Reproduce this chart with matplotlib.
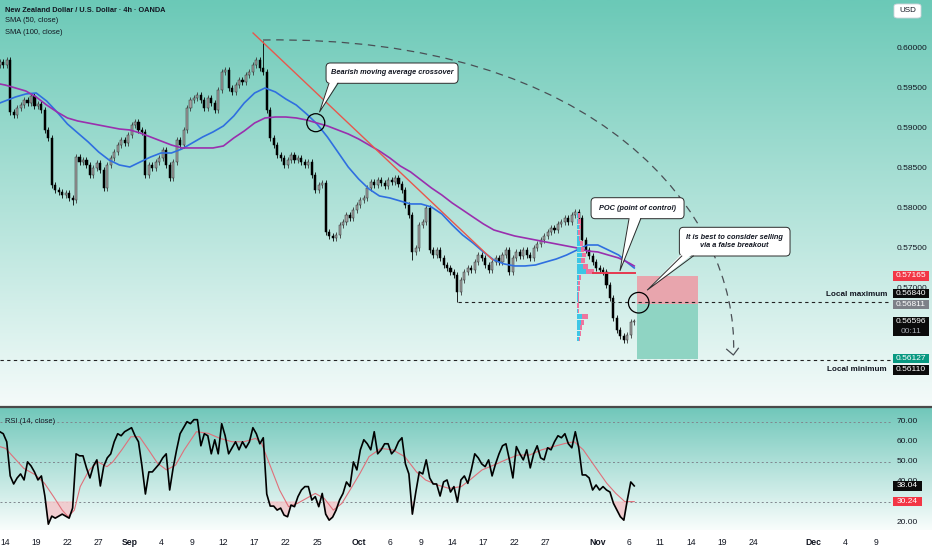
import numpy as np
import matplotlib
matplotlib.use('Agg')
import matplotlib.pyplot as plt
from matplotlib.patches import Rectangle, Ellipse, PathPatch, FancyBboxPatch, Polygon
from matplotlib.path import Path
from matplotlib.colors import LinearSegmentedColormap
import matplotlib.transforms as mtransforms

plt.rcParams['font.family'] = ['Liberation Sans', 'DejaVu Sans']

# ---------------- DATA ----------------
title_text = "New Zealand Dollar / U.S. Dollar \u00b7 4h \u00b7 OANDA"
legend_lines = ["SMA (50, close)", "SMA (100, close)"]

# 8h-equivalent candle closes (3 per trading day), first candle at day -0.5
close = [0.59838, 0.59800, 0.59863, 0.59213, 0.59175, 0.59263, 0.59300, 0.59363, 0.59325, 0.59413,
         0.59288, 0.59313, 0.59238, 0.58988, 0.58888, 0.58300, 0.58238, 0.58213, 0.58175, 0.58200,
         0.58138, 0.58113, 0.58650, 0.58588, 0.58613, 0.58550, 0.58425, 0.58513, 0.58575, 0.58488,
         0.58263, 0.58550, 0.58638, 0.58713, 0.58800, 0.58863, 0.58825, 0.58925, 0.59050, 0.59088,
         0.58988, 0.58963, 0.58425, 0.58550, 0.58513, 0.58588, 0.58638, 0.58738, 0.58550, 0.58388,
         0.58588, 0.58863, 0.58800, 0.58988, 0.59263, 0.59363, 0.59388, 0.59425, 0.59363, 0.59263,
         0.59388, 0.59325, 0.59238, 0.59488, 0.59713, 0.59738, 0.59513, 0.59463, 0.59550, 0.59613,
         0.59588, 0.59675, 0.59713, 0.59800, 0.59863, 0.59763, 0.59713, 0.59238, 0.58888, 0.58800,
         0.58675, 0.58638, 0.58550, 0.58613, 0.58675, 0.58613, 0.58638, 0.58588, 0.58550, 0.58588,
         0.58425, 0.58238, 0.58300, 0.58325, 0.57713, 0.57663, 0.57638, 0.57675, 0.57800, 0.57838,
         0.57925, 0.57888, 0.57988, 0.58050, 0.58113, 0.58138, 0.58263, 0.58338, 0.58300, 0.58363,
         0.58325, 0.58288, 0.58363, 0.58338, 0.58388, 0.58313, 0.58238, 0.58050, 0.57925, 0.57463,
         0.57513, 0.57800, 0.57838, 0.58013, 0.57488, 0.57425, 0.57488, 0.57388, 0.57300, 0.57263,
         0.57213, 0.57175, 0.56963, 0.57113, 0.57213, 0.57263, 0.57238, 0.57338, 0.57425, 0.57388,
         0.57300, 0.57238, 0.57338, 0.57388, 0.57338, 0.57425, 0.57488, 0.57213, 0.57388, 0.57463,
         0.57413, 0.57488, 0.57425, 0.57388, 0.57513, 0.57563, 0.57613, 0.57663, 0.57713, 0.57763,
         0.57738, 0.57813, 0.57838, 0.57888, 0.57838, 0.57925, 0.57963, 0.57888, 0.57613, 0.57488,
         0.57413, 0.57338, 0.57263, 0.57238, 0.57213, 0.57050, 0.56888, 0.56638, 0.56488, 0.56413,
         0.56363, 0.56425, 0.56588, 0.56596]
first_open = 0.59800
wick_high_extra = {76: 0.60100}
wick_low_extra = {21: 0.58050, 119: 0.57363, 132: 0.56840, 180: 0.56325}

# SMA values sampled per trading day (day -0.5, 0..60, 60.5)
sma_days = [-0.5] + list(range(61)) + [60.5]
sma50 = [0.59325, 0.59350, 0.59400, 0.59438, 0.59450, 0.59350, 0.59213, 0.59063, 0.58950, 0.58838,
         0.58713, 0.58613, 0.58550, 0.58525, 0.58588, 0.58650, 0.58700, 0.58700, 0.58750, 0.58825,
         0.58900, 0.58963, 0.59038, 0.59163, 0.59325, 0.59450, 0.59513, 0.59463, 0.59375, 0.59300,
         0.59188, 0.59063, 0.58900, 0.58713, 0.58525, 0.58375, 0.58250, 0.58163, 0.58138, 0.58100,
         0.58063, 0.58063, 0.58025, 0.57938, 0.57800, 0.57675, 0.57575, 0.57463, 0.57363, 0.57313,
         0.57288, 0.57288, 0.57300, 0.57338, 0.57375, 0.57425, 0.57488, 0.57550, 0.57550, 0.57488,
         0.57425, 0.57313, 0.57263]
sma100 = [0.59563, 0.59550, 0.59513, 0.59475, 0.59400, 0.59300, 0.59213, 0.59138, 0.59100, 0.59075,
          0.59050, 0.59025, 0.59000, 0.58988, 0.58950, 0.58900, 0.58850, 0.58800, 0.58763, 0.58763,
          0.58763, 0.58763, 0.58788, 0.58888, 0.58975, 0.59075, 0.59138, 0.59150, 0.59150, 0.59138,
          0.59113, 0.59075, 0.59038, 0.58988, 0.58938, 0.58875, 0.58800, 0.58725, 0.58638, 0.58538,
          0.58463, 0.58363, 0.58263, 0.58175, 0.58075, 0.57988, 0.57900, 0.57813, 0.57738, 0.57700,
          0.57663, 0.57638, 0.57613, 0.57588, 0.57563, 0.57538, 0.57513, 0.57475, 0.57463, 0.57425,
          0.57388, 0.57325, 0.57288]

rsi = [65, 64, 60, 43, 39, 42, 44, 41, 50, 48, 45, 41, 43, 33, 19, 23, 22, 23, 24, 23,
       22, 27, 54, 53, 53, 47, 42, 48, 51, 38, 48, 52, 54, 60, 64, 63, 65, 66, 67, 63,
       60, 48, 34, 45, 45, 47, 49, 52, 54, 36, 47, 56, 64, 67, 70, 69, 71, 71, 58, 64,
       63, 54, 61, 54, 69, 63, 54, 57, 60, 56, 60, 57, 60, 67, 64, 59, 62, 34, 28, 28,
       26, 27, 23.5, 22.7, 28.5, 27.7, 32.7, 36, 37.7, 37.7, 31, 32.7, 27.7, 34.3, 24, 21, 22.5, 26, 31, 34.3,
       40, 37.7, 50, 46, 56, 61, 59, 56, 65, 54, 56, 59, 59, 54, 56, 60, 62, 49, 44, 24,
       35, 45, 44, 51, 42, 39, 39, 33, 40, 41, 35, 37.7, 30, 41, 43, 39.3, 46, 54, 52, 49,
       47.6, 51, 43, 49, 54, 58, 59, 51, 42, 57.6, 54, 51, 56, 47, 54, 58, 52, 51, 57, 56,
       60, 63, 62, 64, 59, 57, 65, 57, 43.5, 43.5, 42, 36, 38.5, 36, 37.7, 36, 35, 29.4, 26, 22.7,
       21, 31, 40, 38.04]
rsi_ma_idx = [0, 1.7, 3.4, 6.9, 10.3, 12.9, 15.5, 18.0, 19.7, 21.5, 23.2, 25.8, 28.3, 30.9, 32.6,
              35.2, 37.8, 40.3, 42.9, 45.5, 48.1, 50.7, 53.2, 56.7, 60.1, 63.5, 67.0, 70.4, 73.8, 75.5,
              78.1, 80.7, 83.3, 85.9, 88.4, 91.0, 93.6, 96.2, 98.7, 101.3, 103.9, 106.5, 109.9, 113.3,
              116.8, 120.2, 122.8, 126.2, 129.6, 133.1, 135.6, 139.1, 142.5, 145.9, 149.4, 152.8,
              156.3, 159.7, 163.1, 165.7, 168.3, 171.7, 175.1, 177.7, 180.3, 183.0]
rsi_ma = [57.6, 56.7, 53.4, 46.8, 43.5, 39.3, 32.7, 26, 22.7, 26, 37.7, 46, 50, 47.6, 50,
          56, 62.5, 62.5, 56, 49.3, 46, 48.4, 56, 65, 64.2, 61.7, 60, 60, 61.7, 59.2,
          47.6, 36, 27.7, 29.4, 31.8, 34.3, 31.8, 26, 29.4, 36.8, 44.3, 52.6, 56.7, 56,
          52.6, 45, 41, 38.5, 36.8, 37.7, 41, 46, 48.4, 51, 53.4, 53.4,
          56, 57.6, 59.2, 60, 56, 47.6, 39.3, 34.3, 30.2, 30.24]

# volume profile
vp_price = [0.57915, 0.57845, 0.57775, 0.57705, 0.57635, 0.57565, 0.57495, 0.57425, 0.57355, 0.57285,
            0.57215, 0.57145, 0.57075, 0.57005, 0.56935, 0.56865, 0.56795, 0.56725, 0.56655, 0.56585,
            0.56515, 0.56445, 0.56375]
vp_buy = [1, 1, 2, 1, 2, 3, 4, 5, 4, 6, 9, 2, 1, 1, 1, 1, 0, 1, 5, 4, 3, 3, 2]
vp_sell = [2, 3, 2, 2, 1, 3, 3, 4, 4, 5, 8, 2, 2, 2, 1, 1, 2, 1, 6, 3, 2, 1, 1]

# levels
local_max = 0.56840
local_min = 0.56110
poc_level = 0.57205
pos_stop, pos_entry, pos_target = 0.57165, 0.56811, 0.56127
last_price = 0.56596
trend_start = (23.85, 0.60200)
trend_end = (46.9, 0.57363)

price_ticks = [0.60000, 0.59500, 0.59000, 0.58500, 0.58000, 0.57500, 0.57000]
rsi_ticks = [70, 60, 50, 40, 20]

xtick_pos = [0, 3, 6, 9, 12, 15, 18, 21, 24, 27, 30, 34, 37, 40, 43, 46, 49, 52, 57, 60,
             63, 66, 69, 72, 77.7, 80.8, 83.75]
xtick_lab = ["14", "19", "22", "27", "Sep", "4", "9", "12", "17", "22", "25", "Oct", "6", "9",
             "14", "17", "22", "27", "Nov", "6", "11", "14", "19", "24", "Dec", "4", "9"]

# ---------------- FIGURE ----------------
W, H = 932, 550
fig = plt.figure(figsize=(W / 100, H / 100), dpi=100)
fig.patch.set_facecolor('white')

ax = fig.add_axes([0, 143 / H, 1, 407 / H])
rax = fig.add_axes([0, 20 / H, 1, 123 / H])

XMIN, XMAX = -0.481, 89.13
for a in (ax, rax):
    for s in a.spines.values():
        s.set_visible(False)
    a.set_yticks([])
ax.set_xticks([])

def gradient(a, top, bottom):
    cmap = LinearSegmentedColormap.from_list('g', [bottom, top])
    a.imshow(np.linspace(0, 1, 256).reshape(-1, 1), extent=[0, 1, 0, 1], transform=a.transAxes,
             cmap=cmap, aspect='auto', origin='lower', zorder=0)

gradient(ax, '#6bc9b7', '#f5fbfa')
gradient(rax, '#70c7ba', '#f9fdfc')
ax.set_xlim(XMIN, XMAX); ax.set_ylim(0.55525, 0.606125)
rax.set_xlim(XMIN, XMAX); rax.set_ylim(16.1, 77.3)

# separator between panes
fig.add_artist(plt.Line2D([0, 1], [143 / H, 143 / H], color='#4a4a4a', lw=1.6))

# ---------------- CANDLES ----------------
n = len(close)
xs = np.array([-0.5 + i / 3 for i in range(n)])
opens = [first_open] + close[:-1]
wick = 0.00035
for i in range(n):
    o, c = opens[i], close[i]
    hi = max(o, c) + wick
    lo = min(o, c) - wick
    if i in wick_high_extra:
        hi = wick_high_extra[i]
    if i in wick_low_extra:
        lo = wick_low_extra[i]
    up = c >= o
    col = '#3a3a3a' if up else '#000000'
    ax.plot([xs[i], xs[i]], [lo, hi], color=col, lw=0.6, zorder=3, solid_capstyle='butt')
    h = max(abs(c - o), 0.00006)
    ax.add_patch(Rectangle((xs[i] - 0.1, min(o, c)), 0.2, h,
                           facecolor='#a3a3a3' if up else '#000000',
                           edgecolor='#2a2a2a' if up else '#000000', lw=0.35, zorder=3.1))

# SMAs
ax.plot(sma_days, sma50, color='#2f6fe0', lw=1.2, zorder=4)
ax.plot(sma_days, sma100, color='#9a2fae', lw=1.2, zorder=4)

# trend line
ax.plot([trend_start[0], trend_end[0]], [trend_start[1], trend_end[1]], color='#e8574c', lw=1.0, zorder=4)

# volume profile
vp_x0 = 55.0
px_day = 10.4
bin_h = 0.00062
for p, b, s in zip(vp_price, vp_buy, vp_sell):
    ax.add_patch(Rectangle((vp_x0, p - bin_h / 2), b / px_day, bin_h, facecolor='#35c4e6',
                           edgecolor='none', alpha=0.95, zorder=4.5))
    ax.add_patch(Rectangle((vp_x0 + b / px_day, p - bin_h / 2), s / px_day, bin_h, facecolor='#f06e9a',
                           edgecolor='none', alpha=0.95, zorder=4.5))
ax.plot([56.54, 60.58], [poc_level, poc_level], color='#e5394f', lw=1.4, zorder=4.6)

# position box
px0, px1 = 60.77, 66.63
ax.add_patch(Rectangle((px0, pos_entry), px1 - px0, pos_stop - pos_entry, facecolor='#e8a5ad',
                       edgecolor='none', zorder=2.5))
ax.add_patch(Rectangle((px0, pos_target), px1 - px0, pos_entry - pos_target, facecolor='#8fd4c3',
                       edgecolor='none', zorder=2.5))

# local max / min lines
ax.plot([43.56, 85.1], [local_max, local_max], color='#222222', lw=0.8, ls=(0, (3, 3)), zorder=4)
ax.plot([XMIN, 85.1], [local_min, local_min], color='#222222', lw=0.8, ls=(0, (3, 3)), zorder=4)
bt = mtransforms.blended_transform_factory(ax.transAxes, ax.transData)
ax.text(887 / W, 0.56925, "Local maximum", transform=bt, ha='right', va='center', fontsize=5.9,
        fontweight='bold', color='#131722', zorder=6)
ax.text(887 / W, 0.55999, "Local minimum", transform=bt, ha='right', va='center', fontsize=5.9,
        fontweight='bold', color='#131722', zorder=6)

# dashed projection arc
arc = Path([(24.81, 0.601125), (57.21, 0.601750), (70.48, 0.579250), (70.05, 0.562125)],
           [Path.MOVETO, Path.CURVE4, Path.CURVE4, Path.CURVE4])
ax.add_patch(PathPatch(arc, fill=False, edgecolor='#4a4f55', lw=0.9, ls=(0, (6, 4.5)), zorder=4))
ax.plot([69.39, 70.03, 70.51], [0.562463, 0.561750, 0.562588], color='#4a4f55', lw=0.9, zorder=4)

# circles
ax.add_patch(Ellipse((29.88, 0.590788), 1.73, 0.00225, fill=False, edgecolor='black', lw=0.9, zorder=6))
ax.add_patch(Ellipse((60.93, 0.568288), 1.98, 0.002575, fill=False, edgecolor='black', lw=0.9, zorder=6))

# callouts
asp = (1 / 8000) / (1 / 10.4)

def callout(x0, x1, y0, y1, base_a, base_b, tip, text, tx, ty):
    box = FancyBboxPatch((x0, y0), x1 - x0, y1 - y0,
                         boxstyle='round,pad=0,rounding_size=0.4', mutation_aspect=asp,
                         facecolor='white', edgecolor='#2b2b2b', lw=0.7, zorder=7)
    ax.add_patch(box)
    yb = y0
    eps = (y1 - y0) * 0.08
    ax.add_patch(Polygon([(base_a, yb + eps), tip, (base_b, yb + eps)], closed=True,
                         facecolor='white', edgecolor='none', zorder=7.1))
    ax.plot([base_a, tip[0], base_b], [yb, tip[1], yb], color='#2b2b2b', lw=0.7, zorder=7.2)
    ax.text(tx, ty, text, ha='center', va='center', fontsize=5.3, fontweight='bold',
            fontstyle='italic', color='#131722', zorder=8, linespacing=1.1)

callout(30.87, 43.56, 0.595713, 0.598250, 31.15, 32.02, (30.24, 0.592125),
        "Bearish moving average crossover", 37.21, 0.597000)
callout(56.35, 65.29, 0.578788, 0.581413, 60.0, 61.13, (59.13, 0.572288),
        "POC (point of control)", 60.82, 0.580125)
callout(64.84, 75.48, 0.574125, 0.577713, 65.07, 66.18, (61.76, 0.569875),
        "It is best to consider selling\nvia a false breakout", 70.15, 0.575925)

# price axis labels
lx = 897 / W
for p in price_ticks:
    ax.text(lx, p, f"{p:.5f}", transform=bt, ha='left', va='center', fontsize=6.0, color='#131722', zorder=9)

bx0, bw = 893 / W, 36 / W
ph = 9.5 / 8000

def price_box(ycen, txt, fc, tc='white', hgt=ph, txt2=None):
    ax.add_patch(Rectangle((bx0, ycen - hgt / 2), bw, hgt, transform=bt, facecolor=fc,
                           edgecolor='none', zorder=10, clip_on=False))
    if txt2 is None:
        ax.text(bx0 + bw / 2, ycen, txt, transform=bt, ha='center', va='center', fontsize=6.0,
                color=tc, zorder=11)
    else:
        ax.text(bx0 + bw / 2, ycen + hgt / 4, txt, transform=bt, ha='center', va='center',
                fontsize=6.0, color=tc, zorder=11)
        ax.text(bx0 + bw / 2, ycen - hgt / 4, txt2, transform=bt, ha='center', va='center',
                fontsize=6.0, color='#a9adb5', zorder=11)

price_box(pos_stop, f"{pos_stop:.5f}", '#f23645')
price_box(0.56944, f"{local_max:.5f}", '#0b0b0b')
price_box(0.56806, f"{pos_entry:.5f}", '#7d8088')
price_box(0.56531, f"{last_price:.5f}", '#0b0b0b', hgt=19 / 8000, txt2="00:11")
price_box(0.56131, f"{pos_target:.5f}", '#089981')
price_box(0.55988, f"{local_min:.5f}", '#0b0b0b')

# legend texts
fig.text(5 / W, 1 - 10 / H, title_text, ha='left', va='center', fontsize=5.3, fontweight='bold',
         color='#131722')
for k, t in enumerate(legend_lines):
    fig.text(5 / W, 1 - (21 + 11 * k) / H, t, ha='left', va='center', fontsize=5.4, color='#131722')

# USD box
fig.add_artist(FancyBboxPatch((894 / W, 1 - 18 / H), 27 / W, 14 / H,
                              boxstyle='round,pad=0,rounding_size=0.004', transform=fig.transFigure,
                              facecolor='white', edgecolor='#d0d3da', lw=0.6))
fig.text(907.5 / W, 1 - 11 / H, "USD", ha='center', va='center', fontsize=5.8, color='#131722')

# ---------------- RSI ----------------
rxs = np.array([-0.5 + i / 3 for i in range(len(rsi))])
rsi_arr = np.array(rsi, dtype=float)
for lvl in (70, 50, 30):
    rax.plot([XMIN, 85.3], [lvl, lvl], color='#80868e', lw=0.7, ls=(0, (2, 2.5)), zorder=2)
rax.fill_between(rxs, rsi_arr, 30, where=rsi_arr < 30, interpolate=True, color='#f4c4c8', alpha=0.8, zorder=2.5)
rax.plot([-0.5 + i / 3 for i in rsi_ma_idx], rsi_ma, color='#e0707a', lw=0.8, zorder=3)
rax.plot(rxs, rsi_arr, color='#000000', lw=1.2, zorder=4)
rax.text(5 / W, 0.88, "RSI (14, close)", transform=rax.transAxes, ha='left', va='center',
         fontsize=5.4, color='#131722', zorder=9)

rbt = mtransforms.blended_transform_factory(rax.transAxes, rax.transData)
for v in rsi_ticks:
    rax.text(lx, v, f"{v:.2f}", transform=rbt, ha='left', va='center', fontsize=6.0, color='#131722', zorder=9)
rh = 9.5 / 2.01
for v, fc in ((rsi[-1], '#0b0b0b'), (rsi_ma[-1], '#f23645')):
    rax.add_patch(Rectangle((bx0, v - rh / 2), bw - 7 / W, rh, transform=rbt, facecolor=fc,
                            edgecolor='none', zorder=10, clip_on=False))
    rax.text(bx0 + (bw - 7 / W) / 2, v, f"{v:.2f}", transform=rbt, ha='center', va='center',
             fontsize=6.0, color='white', zorder=11)

rax.set_xticks(xtick_pos)
rax.set_xticklabels(xtick_lab)
rax.tick_params(axis='x', length=0, pad=6, labelsize=6.2, colors='#131722')
for lab in rax.get_xticklabels():
    if lab.get_text() in ("Sep", "Oct", "Nov", "Dec"):
        lab.set_fontweight('bold')

fig.savefig('out.png', dpi=100)
